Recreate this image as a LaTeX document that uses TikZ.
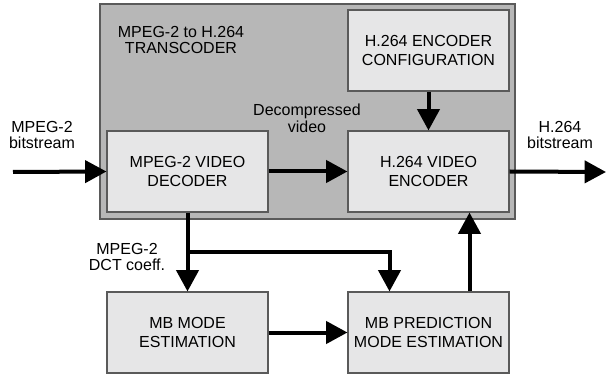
\documentclass[tikz,border=0pt]{standalone}
\usepackage{fontspec}
\setmainfont{Liberation Sans}
\usepackage{tikz}
\usetikzlibrary{positioning, calc, arrows.meta}
\definecolor{outergray}{RGB}{183,183,183}
\definecolor{innergray}{RGB}{230,230,231}
\definecolor{edgegray}{RGB}{90,90,90}
\tikzset{
	blockbox/.style={draw=edgegray, fill=innergray, line width=0.8pt, minimum width=120.75pt, minimum height=60.75pt, align=center, font=\fontsize{12}{14.5}\selectfont, inner sep=0pt}
}
\tikzset{
	plaintext/.style={align=center, font=\fontsize{12}{12.5}\selectfont, inner sep=0pt}
}
\tikzset{
	flow/.style={line width=3pt, -{Triangle[length=16pt, width=16.5pt]}}
}

\begin{document}
\begin{tikzpicture}[x=0.75pt, y=-0.75pt]
      \useasboundingbox (0,0) rectangle (606,377);
      \draw[draw=edgegray, fill=outergray, line width=0.8pt] (100,4) rectangle (515,219);
      \node[plaintext] (title) at (181,40) {MPEG-2 to H.264\\TRANSCODER};
      \node[blockbox] (dec) at (187.5,171.5) {MPEG-2 VIDEO\\DECODER};
      \node[blockbox] (enc) at (428.5,171.5) {H.264 VIDEO\\ENCODER};
      \node[blockbox] (cfg) at (428.5,50.5) {H.264 ENCODER\\CONFIGURATION};
      \node[blockbox] (mbm) at (187.5,332.5) {MB MODE\\ESTIMATION};
      \node[blockbox] (mbp) at (428.5,332.5) {MB PREDICTION\\MODE ESTIMATION};
      \node[plaintext] (inlbl) at (42,135) {MPEG-2\\bitstream};
      \node[plaintext] (outlbl) at (560,135) {H.264\\bitstream};
      \node[plaintext] (declbl) at (307,118) {Decompressed\\video};
      \node[plaintext] (dctlbl) at (127,257) {MPEG-2\\DCT coeff.};
      \coordinate (src) at (13,172);
      \coordinate (sink) at (606,172);
      \coordinate (split) at ($(dec.south)!0.5!(mbm.north)$);
      \draw[flow] (src) -- (dec.west);
      \draw[flow] (dec.east) -- (enc.west);
      \draw[flow] (enc.east) -- (sink);
      \draw[flow] (cfg.south) -- (enc.north);
      \draw[flow] (dec.south) -- (mbm.north);
      \draw[flow] (split) -| ($(mbp.north)+(-39,0)$);
      \draw[flow] (mbm.east) -- (mbp.west);
      \draw[flow] ($(mbp.north)+(41,0)$) -- ($(enc.south)+(41,0)$);
    \end{tikzpicture}
\end{document}
